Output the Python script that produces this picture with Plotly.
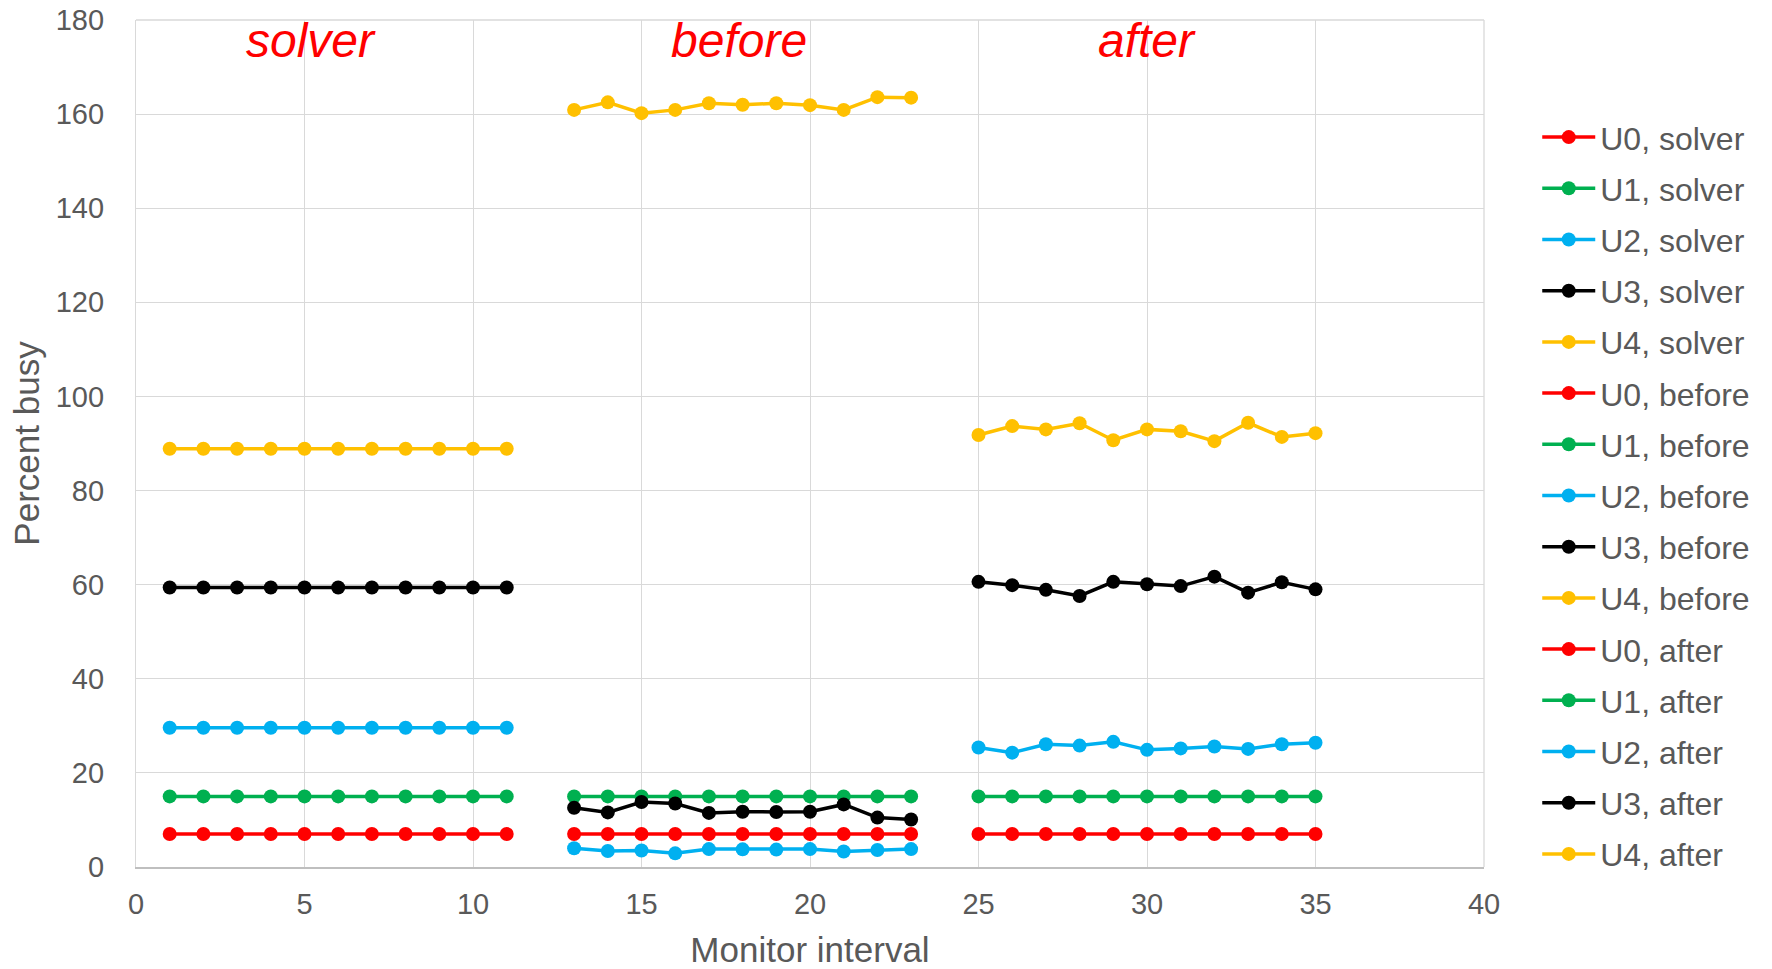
import plotly.graph_objects as go

# ---- data ----
x_solver = [1, 2, 3, 4, 5, 6, 7, 8, 9, 10, 11]
x_before = [13, 14, 15, 16, 17, 18, 19, 20, 21, 22, 23]
x_after = [25, 26, 27, 28, 29, 30, 31, 32, 33, 34, 35]

u0_solver = [7.0] * 11
u1_solver = [15.0] * 11
u2_solver = [29.6] * 11
u3_solver = [59.4] * 11
u4_solver = [88.9] * 11

u0_before = [7.0] * 11
u1_before = [15.0] * 11
u2_before = [4.0, 3.4, 3.5, 2.9, 3.8, 3.75, 3.7, 3.8, 3.3, 3.6, 3.8]
u3_before = [12.6, 11.6, 13.8, 13.5, 11.5, 11.75, 11.7, 11.75, 13.3, 10.5, 10.1]
u4_before = [160.9, 162.5, 160.2, 160.9, 162.3, 162.0, 162.3, 161.9, 160.9, 163.6, 163.5]

u0_after = [7.0] * 11
u1_after = [15.0] * 11
u2_after = [25.4, 24.3, 26.1, 25.8, 26.6, 24.9, 25.2, 25.6, 25.1, 26.1, 26.4]
u3_after = [60.6, 59.9, 58.9, 57.6, 60.6, 60.1, 59.7, 61.7, 58.3, 60.5, 59.0]
u4_after = [91.8, 93.7, 93.0, 94.3, 90.7, 93.0, 92.6, 90.5, 94.4, 91.4, 92.2]

phase_labels = ["solver", "before", "after"]
phase_label_x = [5.2, 17.9, 30.0]
phase_label_y = 175.6

colors = ["#FF0000", "#00B050", "#00B0F0", "#000000", "#FFC000"]
grid_color = "#D9D9D9"

series = [
    ("U0, solver", x_solver, u0_solver, 0),
    ("U1, solver", x_solver, u1_solver, 1),
    ("U2, solver", x_solver, u2_solver, 2),
    ("U3, solver", x_solver, u3_solver, 3),
    ("U4, solver", x_solver, u4_solver, 4),
    ("U0, before", x_before, u0_before, 0),
    ("U1, before", x_before, u1_before, 1),
    ("U2, before", x_before, u2_before, 2),
    ("U3, before", x_before, u3_before, 3),
    ("U4, before", x_before, u4_before, 4),
    ("U0, after", x_after, u0_after, 0),
    ("U1, after", x_after, u1_after, 1),
    ("U2, after", x_after, u2_after, 2),
    ("U3, after", x_after, u3_after, 3),
    ("U4, after", x_after, u4_after, 4),
]

fig = go.Figure()
for i, (name, xs, ys, ci) in enumerate(series):
    fig.add_trace(go.Scatter(
        x=xs, y=ys, name=name, mode="lines+markers",
        line=dict(color=colors[ci], width=3.5),
        marker=dict(color=colors[ci], size=14),
        legendgroup="g%d" % i,
        cliponaxis=False,
    ))

font_family = "Liberation Sans, Arial, sans-serif"

for lbl, lx in zip(phase_labels, phase_label_x):
    fig.add_annotation(
        x=lx, y=phase_label_y, xref="x", yref="y", text="<i>%s</i>" % lbl,
        showarrow=False,
        font=dict(family=font_family, size=48, color="#FF0000"),
    )

# plot-area border lines (top and right) in grid colour
fig.add_shape(type="line", xref="paper", yref="paper", x0=0, x1=1, y0=1, y1=1,
              line=dict(color=grid_color, width=1.3), layer="below")
fig.add_shape(type="line", xref="paper", yref="paper", x0=1, x1=1, y0=0, y1=1,
              line=dict(color=grid_color, width=1.3), layer="below")

fig.update_layout(
    width=1772, height=969,
    margin=dict(l=136, r=288, t=20, b=102, autoexpand=False),
    paper_bgcolor="white", plot_bgcolor="white",
    font=dict(family=font_family, size=29, color="#595959"),
    showlegend=True,
    legend=dict(
        x=1.0395, y=0.894, xanchor="left", yanchor="top",
        font=dict(family=font_family, size=32, color="#595959"),
        tracegroupgap=6.6,
        itemwidth=53,
        bgcolor="rgba(0,0,0,0)",
    ),
    xaxis=dict(
        range=[0, 40], dtick=5, tick0=0,
        showgrid=True, gridcolor=grid_color, gridwidth=1.3,
        zeroline=False, automargin=False,
        showline=True, linecolor="#BFBFBF", linewidth=1.5,
        ticks="", ticklabelstandoff=10, ticklabeloverflow="allow",
        tickfont=dict(family=font_family, size=29, color="#595959"),
        title=dict(text="Monitor interval", font=dict(family=font_family, size=35, color="#595959"), standoff=24),
    ),
    yaxis=dict(
        range=[0, 180], dtick=20, tick0=0,
        showgrid=True, gridcolor=grid_color, gridwidth=1.3,
        zeroline=False, automargin=False,
        showline=True, linecolor=grid_color, linewidth=1.3,
        ticks="", ticklabelstandoff=25, ticklabeloverflow="allow",
        tickfont=dict(family=font_family, size=29, color="#595959"),
        title=dict(text="Percent busy", font=dict(family=font_family, size=35, color="#595959"), standoff=5),
    ),
)

fig.write_html("out.html", config={"displayModeBar": False},
               post_script="document.body.style.margin='0';")
